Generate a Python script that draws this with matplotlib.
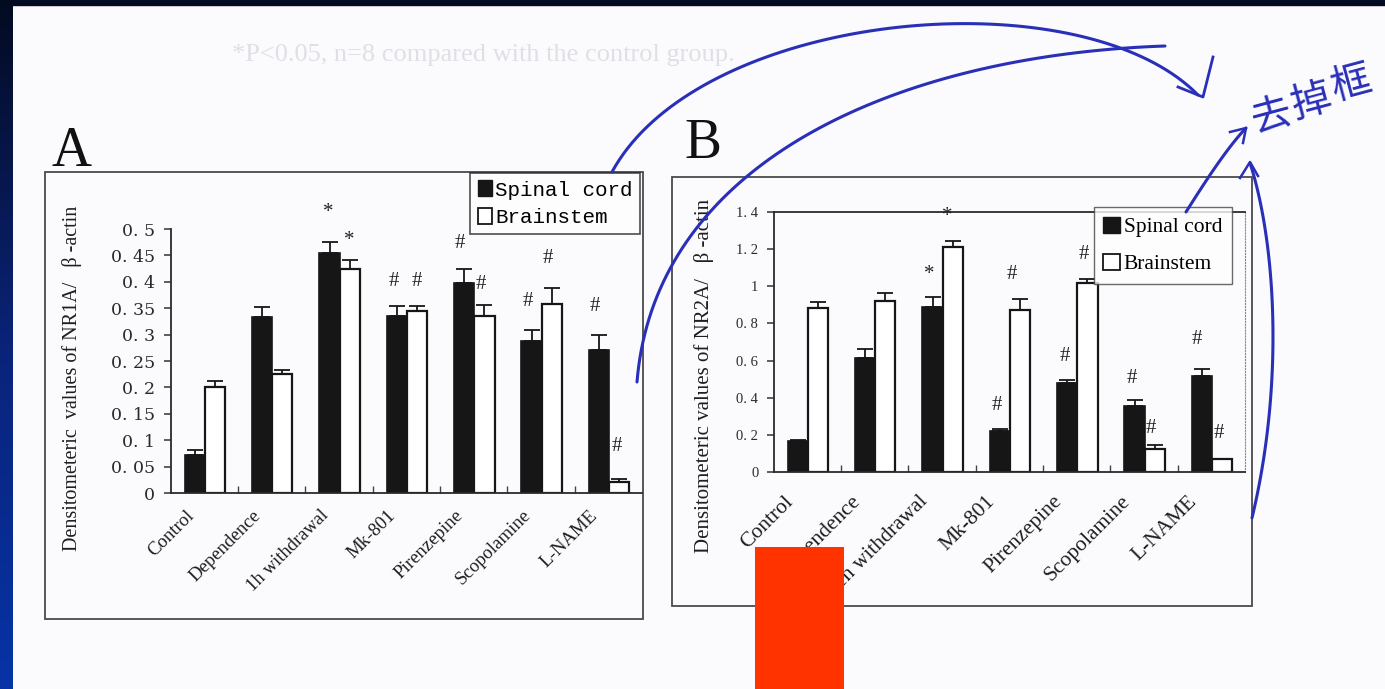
import numpy as np
import matplotlib
matplotlib.use("Agg")
import matplotlib.pyplot as plt
from matplotlib.patches import Rectangle, Patch
from matplotlib.transforms import ScaledTranslation

W, H = 1385, 689

categories = ["Control", "Dependence", "1h withdrawal", "Mk-801",
              "Pirenzepine", "Scopolamine", "L-NAME"]
categories_b = ["Control", "Dependence", "1h withdrawal", "Mk-801",
                "Pirenzepine", "Scopolamine", "L-NAME"]

# panel A: NR1A / beta-actin
a_spinal = [0.072, 0.3325, 0.455, 0.336, 0.397, 0.2875, 0.27]
a_spinal_sem = [0.009, 0.02, 0.02, 0.019, 0.028, 0.022, 0.029]
a_brain = [0.2, 0.226, 0.424, 0.345, 0.336, 0.358, 0.021]
a_brain_sem = [0.012, 0.007, 0.018, 0.01, 0.02, 0.031, 0.006]
a_marks = [("*", 1.84, 0.531), ("*", 2.15, 0.478),
           ("#", 2.81, 0.40), ("#", 3.16, 0.40),
           ("#", 3.79, 0.472), ("#", 4.10, 0.394),
           ("#", 4.80, 0.3625), ("#", 5.10, 0.444),
           ("#", 5.80, 0.353), ("#", 6.12, 0.0875)]

# panel B: NR2A / beta-actin
b_spinal = [0.167, 0.615, 0.89, 0.221, 0.477, 0.355, 0.516]
b_spinal_sem = [0.008, 0.045, 0.05, 0.008, 0.018, 0.032, 0.038]
b_brain = [0.885, 0.923, 1.211, 0.873, 1.02, 0.122, 0.068]
b_brain_sem = [0.033, 0.04, 0.034, 0.057, 0.02, 0.022, 0.004]
b_marks = [("*", 1.81, 1.062), ("*", 2.08, 1.377),
           ("#", 2.81, 0.36), ("#", 3.03, 1.062),
           ("#", 3.83, 0.62), ("#", 4.11, 1.17),
           ("#", 4.82, 0.504), ("#", 5.10, 0.234),
           ("#", 5.79, 0.711), ("#", 6.11, 0.207)]

a_yticks = [0, 0.05, 0.1, 0.15, 0.2, 0.25, 0.3, 0.35, 0.4, 0.45, 0.5]
b_yticks = [0, 0.2, 0.4, 0.6, 0.8, 1.0, 1.2, 1.4]

SERIF = "Liberation Serif"
DARK = "#161616"
PAGE = "#fbfafc"


def tick_text(v):
    if v == 0:
        return "0"
    s = f"{v:.2f}".rstrip("0").rstrip(".")
    return s.replace(".", ". ")


def px_box(left, top, right, bottom):
    return [left / W, 1 - bottom / H, (right - left) / W, (bottom - top) / H]


fig = plt.figure(figsize=(W / 100, H / 100), dpi=100)
fig.patch.set_facecolor(PAGE)

# background layer in pixel coordinates
bg = fig.add_axes([0, 0, 1, 1], zorder=-5)
bg.set_xlim(0, W)
bg.set_ylim(H, 0)
bg.axis("off")
grad = np.linspace(0, 1, 100).reshape(-1, 1)
bg.imshow(grad, extent=(0, 13, H, 0), cmap=matplotlib.colors.LinearSegmentedColormap.from_list(
    "strip", ["#030b22", "#0a2378", "#0633a6"]), aspect="auto")
bg.add_patch(Rectangle((0, 0), W, 5, color="#030b22"))
bg.add_patch(Rectangle((45, 172), 598, 447, fill=False, ec="#4a4a4a", lw=1.3))
bg.add_patch(Rectangle((672, 177), 580, 429, fill=False, ec="#4a4a4a", lw=1.3))
bg.text(52, 166, "A", family=SERIF, fontsize=40, color="#111111", va="baseline")
bg.text(684, 158, "B", family=SERIF, fontsize=40, color="#111111", va="baseline")
bg.text(232, 55, "*P<0.05, n=8 compared with the control group.", family=SERIF,
        fontsize=19, color="#e0dfe6", va="center")


def draw_panel(ax, spinal, s_sem, brain, b_sem, cats, marks, ymax, yticks,
               tick_fs, tick_family, cat_fs, cat_off, mark_fs):
    x = np.arange(len(cats))
    w = 0.30
    ax.bar(x - 0.14, spinal, w, color=DARK, edgecolor=DARK, lw=1.2, zorder=2)
    ax.bar(x + 0.16, brain, w, color="white", edgecolor=DARK, lw=1.6, zorder=2)
    ax.errorbar(x - 0.14, spinal, yerr=[np.zeros(len(x)), s_sem], fmt="none",
                ecolor=DARK, elinewidth=1.3, capsize=6, capthick=1.3, zorder=3)
    ax.errorbar(x + 0.16, brain, yerr=[np.zeros(len(x)), b_sem], fmt="none",
                ecolor=DARK, elinewidth=1.3, capsize=6, capthick=1.3, zorder=3)
    for sym, mx, my in marks:
        ax.text(mx, my, sym, family=SERIF, fontsize=mark_fs, ha="center",
                va="center", color="#222222", clip_on=False)
    ax.set_xlim(-0.5, len(cats) - 0.5)
    ax.set_ylim(0, ymax)
    ax.set_yticks(yticks)
    ax.set_yticklabels([tick_text(v) for v in yticks], family=tick_family,
                       fontsize=tick_fs, color="#2a2a2a")
    ax.tick_params(axis="y", direction="out", length=5, width=1.1, pad=6,
                   color="#333333")
    ax.set_xticks(x)
    ax.set_xticklabels([])
    ax.tick_params(axis="x", length=0)
    ax.set_xticks(np.arange(0.5, len(cats) - 1, 1.0), minor=True)
    ax.tick_params(axis="x", which="minor", direction="in", length=5,
                   width=1, color="#444444")
    off = ScaledTranslation(cat_off[0] / 100, cat_off[1] / 100, fig.dpi_scale_trans)
    for i, c in enumerate(cats):
        ax.text(i, 0, c, transform=ax.get_xaxis_transform() + off,
                rotation=45, rotation_mode="anchor", ha="right", va="center",
                family=SERIF, fontsize=cat_fs, color="#1e1e1e")
    ax.set_facecolor("none")
    for s in ["left", "bottom"]:
        ax.spines[s].set_color("#2a2a2a")
        ax.spines[s].set_linewidth(1.3)


# panel A
axa = fig.add_axes(px_box(170.6, 229, 642, 493))
draw_panel(axa, a_spinal, a_spinal_sem, a_brain, a_brain_sem, categories,
           a_marks, 0.5, a_yticks, 12.5, "DejaVu Serif", 13.5, (-13, -20), 15)
axa.spines["top"].set_visible(False)
axa.spines["right"].set_visible(False)
axa.set_ylabel("Densitometeric  values of NR1A/   \u03b2 -actin", family=SERIF,
               fontsize=14.5, color="#1e1e1e")
axa.yaxis.set_label_coords((82 - 170.6) / (642 - 170.6), (493 - 378) / (493 - 229))
leg_a = axa.legend(handles=[Patch(fc=DARK, ec=DARK, label="Spinal cord"),
                            Patch(fc="white", ec=DARK, lw=1.3, label="Brainstem")],
                   loc="upper right", bbox_to_anchor=(640 / W, 1 - 173 / H),
                   bbox_transform=fig.transFigure, frameon=True, fancybox=False,
                   borderaxespad=0, prop={"family": "Liberation Mono", "size": 15},
                   handlelength=0.7, handleheight=0.8, handletextpad=0.15,
                   labelspacing=0.4, borderpad=0.35)
leg_a.get_frame().set_edgecolor("#222222")
leg_a.get_frame().set_linewidth(1.2)

# panel B
axb = fig.add_axes(px_box(773.6, 212, 1245, 472))
draw_panel(axb, b_spinal, b_spinal_sem, b_brain, b_brain_sem, categories_b,
           b_marks, 1.4, b_yticks, 10.5, SERIF, 15.5, (-17, -27), 15)
axb.spines["top"].set_color("#2a2a2a")
axb.spines["top"].set_linewidth(1.3)
axb.spines["right"].set_linestyle(":")
axb.spines["right"].set_color("#888888")
axb.set_ylabel("Densitometeric values of NR2A/   \u03b2 -actin", family=SERIF,
               fontsize=15, color="#1e1e1e")
axb.yaxis.set_label_coords((714 - 773.6) / (1245 - 773.6), (472 - 376) / (472 - 212))
leg_b = axb.legend(handles=[Patch(fc=DARK, ec=DARK, label="Spinal cord"),
                            Patch(fc="white", ec=DARK, lw=1.3, label="Brainstem")],
                   loc="upper right", bbox_to_anchor=(1232 / W, 1 - 207 / H),
                   bbox_transform=fig.transFigure, frameon=True, fancybox=False,
                   borderaxespad=0, prop={"family": SERIF, "size": 15.5},
                   handlelength=0.75, handleheight=0.8, handletextpad=0.2,
                   labelspacing=0.75, borderpad=0.45)
leg_b.get_frame().set_edgecolor("#444444")
leg_b.get_frame().set_linewidth(1.0)

# overlay: hand-written notes and the red block
top = fig.add_axes([0, 0, 1, 1], zorder=10)
top.set_xlim(0, W)
top.set_ylim(H, 0)
top.axis("off")
top.set_facecolor("none")


def bez(p0, p1, p2, p3, n=80):
    t = np.linspace(0, 1, n)[:, None]
    p = ((1 - t) ** 3 * np.array(p0) + 3 * (1 - t) ** 2 * t * np.array(p1)
         + 3 * (1 - t) * t ** 2 * np.array(p2) + t ** 3 * np.array(p3))
    return p[:, 0], p[:, 1]


BLUE = "#2a2fb8"
strokes = [((612, 172), (700, 10), (1080, -25), (1198, 95)),
           ((637, 382), (655, 160), (900, 55), (1165, 46)),
           ((1186, 212), (1200, 190), (1225, 150), (1246, 128)),
           ((1252, 518), (1285, 380), (1275, 240), (1250, 163))]
for s in strokes:
    xs, ys = bez(*s)
    top.plot(xs, ys, color=BLUE, lw=2.2, solid_capstyle="round")
top.plot([1213, 1203, 1178], [57, 97, 87], color=BLUE, lw=2.0)
top.plot([1230, 1246, 1243], [132, 128, 143], color=BLUE, lw=1.8)
top.plot([1240, 1250, 1258], [178, 162, 176], color=BLUE, lw=1.8)
for ch, cx, cy in [("去", 1272, 116), ("掉", 1311, 102), ("框", 1352, 84)]:
    top.text(cx, cy, ch, family=["Noto Sans CJK SC", "DejaVu Sans"],
             fontsize=29, color=BLUE, rotation=15, ha="center", va="center")
top.add_patch(Rectangle((755, 547), 89, 142, color="#ff3300", lw=0))

fig.savefig("out.png", dpi=100, facecolor=fig.get_facecolor())
